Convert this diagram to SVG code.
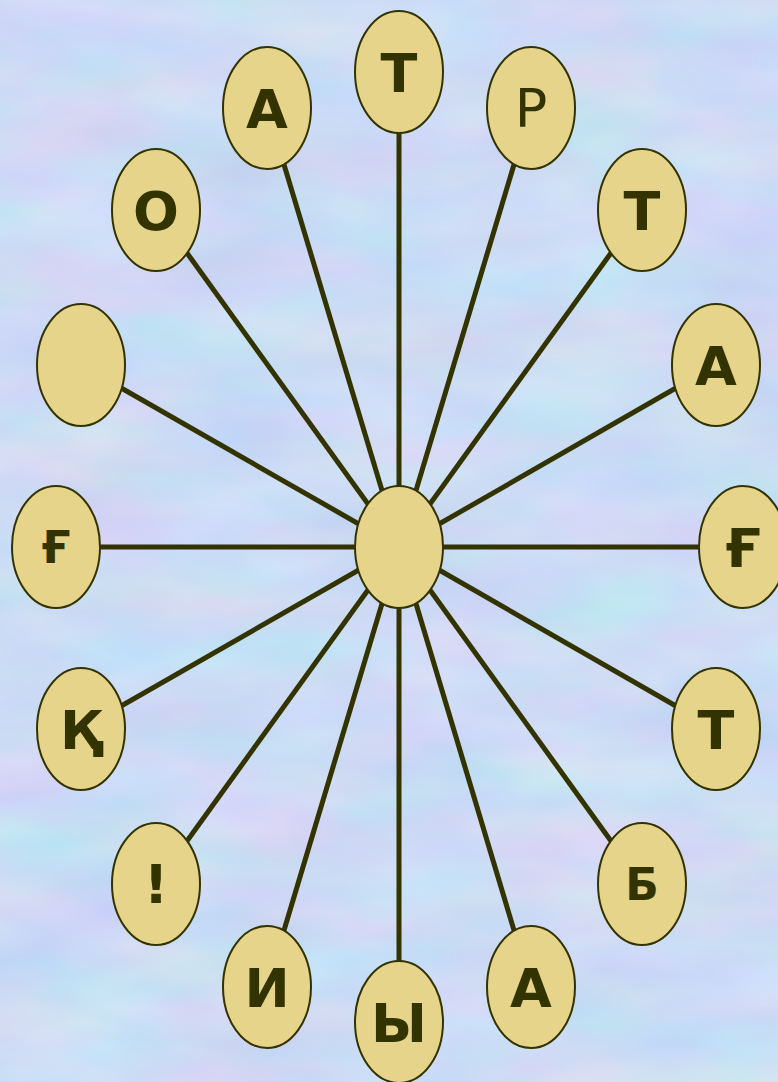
<svg xmlns="http://www.w3.org/2000/svg" width="778" height="1082" viewBox="0 0 778 1082">
  <defs>
    <filter id="tex" x="0" y="0" width="100%" height="100%" color-interpolation-filters="sRGB">
      <feTurbulence type="fractalNoise" baseFrequency="0.006 0.016" numOctaves="3" seed="7"/>
      <feColorMatrix type="matrix" values="0.18 0 0 0 0.71  0 0.12 0 0 0.80  0 0 0.06 0 0.93  0 0 0 0 1"/>
    </filter>
    <style>
      .node { fill: #E5D48A; stroke: #333300; stroke-width: 2; }
      .conn { stroke: #333300; stroke-width: 5; fill: none; }
      .lbl { font-family: "DejaVu Sans", "Liberation Sans", sans-serif; font-size: 54px; font-weight: bold; fill: #333300; text-anchor: middle; }
      .reg { font-weight: normal; }
      .small { font-size: 44px; }
    </style>
  </defs>
  <rect x="0" y="0" width="778" height="1082" fill="#cbd9f5"/>
  <rect x="0" y="0" width="778" height="1082" filter="url(#tex)"/>

  <g id="connectors">
    <line class="conn" x1="399" y1="547" x2="399" y2="72"/>
    <line class="conn" x1="399" y1="547" x2="531" y2="108"/>
    <line class="conn" x1="399" y1="547" x2="642" y2="210"/>
    <line class="conn" x1="399" y1="547" x2="716" y2="365"/>
    <line class="conn" x1="399" y1="547" x2="743" y2="547"/>
    <line class="conn" x1="399" y1="547" x2="716" y2="729"/>
    <line class="conn" x1="399" y1="547" x2="642" y2="884"/>
    <line class="conn" x1="399" y1="547" x2="531" y2="987"/>
    <line class="conn" x1="399" y1="547" x2="399" y2="1022"/>
    <line class="conn" x1="399" y1="547" x2="267" y2="987"/>
    <line class="conn" x1="399" y1="547" x2="156" y2="884"/>
    <line class="conn" x1="399" y1="547" x2="81" y2="729"/>
    <line class="conn" x1="399" y1="547" x2="56" y2="547"/>
    <line class="conn" x1="399" y1="547" x2="81" y2="365"/>
    <line class="conn" x1="399" y1="547" x2="156" y2="210"/>
    <line class="conn" x1="399" y1="547" x2="267" y2="108"/>
  </g>

  <g id="center"><ellipse class="node" cx="399" cy="547" rx="44" ry="61"/></g>

  <g id="n1"><ellipse class="node" cx="399" cy="72" rx="44" ry="61"/><text class="lbl" x="399" y="92">Т</text></g>
  <g id="n2"><ellipse class="node" cx="531" cy="108" rx="44" ry="61"/><text class="lbl reg" x="531" y="127">Р</text></g>
  <g id="n3"><ellipse class="node" cx="642" cy="210" rx="44" ry="61"/><text class="lbl" x="642" y="230">Т</text></g>
  <g id="n4"><ellipse class="node" cx="716" cy="365" rx="44" ry="61"/><text class="lbl" x="716" y="385">А</text></g>
  <g id="n5"><ellipse class="node" cx="743" cy="547" rx="44" ry="61"/><text class="lbl" x="743" y="567">Ғ</text></g>
  <g id="n6"><ellipse class="node" cx="716" cy="729" rx="44" ry="61"/><text class="lbl" x="716" y="749">Т</text></g>
  <g id="n7"><ellipse class="node" cx="642" cy="884" rx="44" ry="61"/><text class="lbl small" x="642" y="900">Б</text></g>
  <g id="n8"><ellipse class="node" cx="531" cy="987" rx="44" ry="61"/><text class="lbl" x="531" y="1007">А</text></g>
  <g id="n9"><ellipse class="node" cx="399" cy="1022" rx="44" ry="61"/><text class="lbl" x="399" y="1042">Ы</text></g>
  <g id="n10"><ellipse class="node" cx="267" cy="987" rx="44" ry="61"/><text class="lbl" x="267" y="1007">И</text></g>
  <g id="n11"><ellipse class="node" cx="156" cy="884" rx="44" ry="61"/><text class="lbl" x="156" y="903">!</text></g>
  <g id="n12"><ellipse class="node" cx="81" cy="729" rx="44" ry="61"/><text class="lbl" x="81" y="749">Қ</text></g>
  <g id="n13"><ellipse class="node" cx="56" cy="547" rx="44" ry="61"/><text class="lbl small" x="56" y="563">Ғ</text></g>
  <g id="n14"><ellipse class="node" cx="81" cy="365" rx="44" ry="61"/></g>
  <g id="n15"><ellipse class="node" cx="156" cy="210" rx="44" ry="61"/><text class="lbl" x="156" y="230">О</text></g>
  <g id="n16"><ellipse class="node" cx="267" cy="108" rx="44" ry="61"/><text class="lbl" x="267" y="128">А</text></g>
</svg>
